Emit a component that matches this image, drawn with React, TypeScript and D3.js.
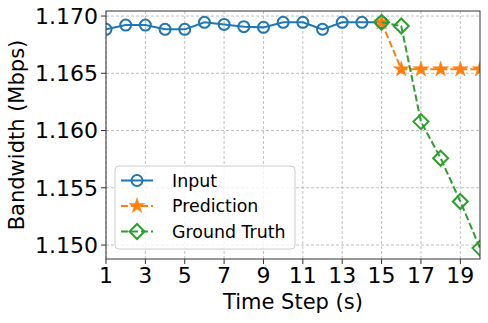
import * as d3 from "d3";

const inputSteps = [1, 2, 3, 4, 5, 6, 7, 8, 9, 10, 11, 12, 13, 14, 15];
const inputValues = [1.16884, 1.16921, 1.16921, 1.16884, 1.16884, 1.16945, 1.16927, 1.16907, 1.16901, 1.16945, 1.16945, 1.16884, 1.16945, 1.16945, 1.16945];
const predSteps = [15, 16, 17, 18, 19, 20];
const predValues = [1.16945, 1.16535, 1.16535, 1.16535, 1.16535, 1.16535];
const truthSteps = [15, 16, 17, 18, 19, 20];
const truthValues = [1.16945, 1.16913, 1.16078, 1.15758, 1.1538, 1.14973];
const xTicks = [1, 3, 5, 7, 9, 11, 13, 15, 17, 19];
const yTicks = [1.15, 1.155, 1.16, 1.165, 1.17];
const legendNames = ["Input", "Prediction", "Ground Truth"];

const W = 488, H = 323;
const margin = {top: 11, right: 8, bottom: 64, left: 106};
const blue = "#1f77b4", orange = "#ff7f0e", green = "#2ca02c";
const font = "DejaVu Sans, sans-serif";

const x = d3.scaleLinear().domain([1, 20]).range([margin.left, W - margin.right]);
const y = d3.scaleLinear().domain([1.14878, 1.17044]).range([H - margin.bottom, margin.top]);

const starPath = d3.symbol().type(d3.symbolStar).size(75)() as string;
const diamond = (s: number) => `M0,${-s}L${s},0L0,${s}L${-s},0Z`;

const App = () => {
    const line = d3.line<[number, number]>().x(d => x(d[0])).y(d => y(d[1]));
    const inp = inputSteps.map((s, i) => [s, inputValues[i]] as [number, number]);
    const pred = predSteps.map((s, i) => [s, predValues[i]] as [number, number]);
    const truth = truthSteps.map((s, i) => [s, truthValues[i]] as [number, number]);
    const [x0, x1] = x.range();
    const [y0, y1] = y.range();

    const marker = (k: number, cx: number, cy: number) => {
        if (k === 0) return <circle cx={cx} cy={cy} r={5.5} fill="none" stroke={blue} strokeWidth={2} />;
        if (k === 1) return <path d={starPath} transform={`translate(${cx},${cy})`} fill={orange} stroke={orange} strokeWidth={0.5} />;
        return <path d={diamond(7.5)} transform={`translate(${cx},${cy})`} fill="none" stroke={green} strokeWidth={2} />;
    };
    const colors = [blue, orange, green];

    return (
        <svg width={W} height={H} style={{position: "absolute", left: 0, top: 0, fontFamily: font}}>
            <rect width={W} height={H} fill="white" />
            <defs>
                <clipPath id="plot"><rect x={x0} y={y1} width={x1 - x0} height={y0 - y1} /></clipPath>
            </defs>
            {xTicks.map(t => (
                <line key={"gx" + t} x1={x(t)} x2={x(t)} y1={y1} y2={y0} stroke="#b0b0b0" strokeDasharray="3,2" strokeWidth={0.8} />
            ))}
            {yTicks.map(t => (
                <line key={"gy" + t} x1={x0} x2={x1} y1={y(t)} y2={y(t)} stroke="#b0b0b0" strokeDasharray="3,2" strokeWidth={0.8} />
            ))}
            <g clipPath="url(#plot)">
                <path d={line(inp)!} fill="none" stroke={blue} strokeWidth={2} />
                {inp.map((d, i) => <g key={"i" + i}>{marker(0, x(d[0]), y(d[1]))}</g>)}
                <path d={line(pred)!} fill="none" stroke={orange} strokeWidth={2} strokeDasharray="7,3" />
                {pred.map((d, i) => <g key={"p" + i}>{marker(1, x(d[0]), y(d[1]))}</g>)}
                <path d={line(truth)!} fill="none" stroke={green} strokeWidth={2} strokeDasharray="7,3" />
                {truth.map((d, i) => <g key={"t" + i}>{marker(2, x(d[0]), y(d[1]))}</g>)}
            </g>
            <rect x={x0} y={y1} width={x1 - x0} height={y0 - y1} fill="none" stroke="#333" strokeWidth={1} />
            {xTicks.map(t => (
                <g key={"tx" + t}>
                    <line x1={x(t)} x2={x(t)} y1={y0} y2={y0 + 5} stroke="#333" />
                    <text x={x(t)} y={y0 + 24} fontSize={22} textAnchor="middle" fill="black">{t}</text>
                </g>
            ))}
            {yTicks.map(t => (
                <g key={"ty" + t}>
                    <line x1={x0 - 5} x2={x0} y1={y(t)} y2={y(t)} stroke="#333" />
                    <text x={x0 - 8} y={y(t)} dy="0.36em" fontSize={22} textAnchor="end" fill="black">{d3.format(".3f")(t)}</text>
                </g>
            ))}
            <text x={(x0 + x1) / 2} y={H - 14} fontSize={21} textAnchor="middle" fill="black">Time Step (s)</text>
            <text transform={`translate(24,${(y0 + y1) / 2}) rotate(-90)`} fontSize={21} textAnchor="middle" fill="black">Bandwidth (Mbps)</text>
            <rect x={115} y={166} width={180} height={83} rx={4} fill="white" fillOpacity={0.8} stroke="#ccc" strokeWidth={1} />
            {legendNames.map((n, k) => {
                const ly = 180.5 + k * 25.5;
                return (
                    <g key={n}>
                        <line x1={121} x2={153} y1={ly} y2={ly} stroke={colors[k]} strokeWidth={2} strokeDasharray={k === 0 ? undefined : "7,3"} />
                        {marker(k, 137, ly)}
                        <text x={172} y={ly} dy="0.36em" fontSize={17.4} fill="black">{n}</text>
                    </g>
                );
            })}
        </svg>
    );
};

export default App;
